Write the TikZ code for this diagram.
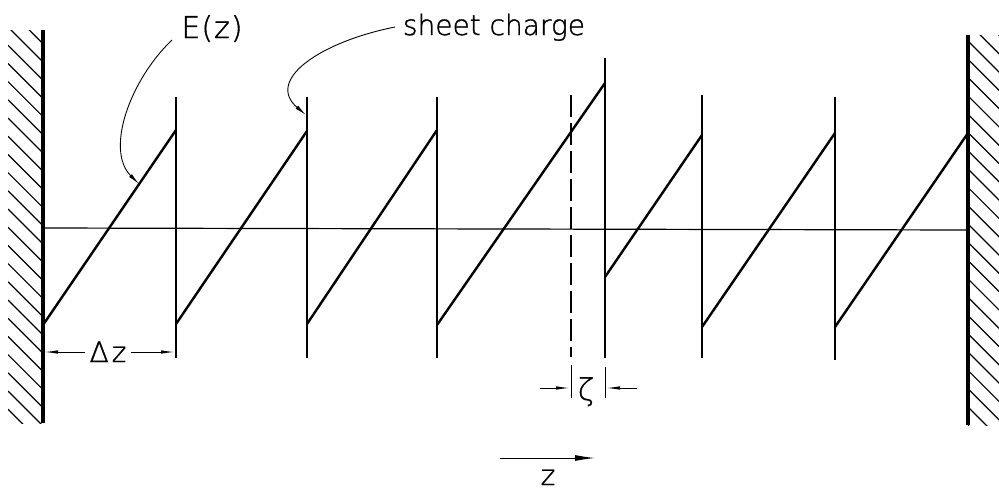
\documentclass[tikz,border=0pt]{standalone}
\usepackage{fontspec}
\newfontfamily\lett{DejaVu Sans ExtraLight}[FakeBold=1.2]
\usetikzlibrary{arrows.meta}
\begin{document}
\begin{tikzpicture}[x=1pt,y=-1pt,
  wall/.style={line width=3.6pt},
  sheetline/.style={line width=2.6pt},
  ramp/.style={line width=2.4pt},
  axisline/.style={line width=1.2pt},
  hatchline/.style={line width=1.2pt},
  fineline/.style={line width=1pt},
  leader/.style={line width=0.9pt,-{Latex[length=12pt,width=4pt]}},
  dimarrow/.style={line width=1pt,-{Latex[length=14pt,width=3.5pt]}},
  lbl/.style={font=\lett\fontsize{28}{30}\selectfont, inner sep=0pt}
]
\useasboundingbox (0,0) rectangle (999,490);
\fill[white] (0,0) rectangle (999,490);

% walls with hatching
\begin{scope}
  \clip (8,30) rectangle (42,423);
  \foreach \i in {0,...,23} \draw[hatchline] (8,{8.8+18.2*\i}) -- ++(40,40);
\end{scope}
\begin{scope}
  \clip (968,35) rectangle (999,425);
  \foreach \i in {0,...,23} \draw[hatchline] (968,{4.4+18.3*\i}) -- ++(40,40);
\end{scope}
\coordinate (LWt) at (43,30);  \coordinate (LWb) at (43,423);
\coordinate (RWt) at (968,35); \coordinate (RWb) at (968,425);
\draw[wall] (LWt) -- (LWb);
\draw[wall] (RWt) -- (RWb);

% axis
\coordinate (axL) at (43,228); \coordinate (axR) at (968,230);
\draw[axisline] (axL) -- (axR);

% sheets
\coordinate (s1t) at (176,97);  \coordinate (s1b) at (176,358);
\coordinate (s2t) at (307,97);  \coordinate (s2b) at (307,358);
\coordinate (s3t) at (437,97);  \coordinate (s3b) at (437,358);
\coordinate (s4t) at (605,58);  \coordinate (s4b) at (605,358);
\coordinate (s5t) at (702,95);  \coordinate (s5b) at (702,358);
\coordinate (s6t) at (835,97);  \coordinate (s6b) at (835,360);
\foreach \s in {1,...,6} \draw[sheetline] (s\s t) -- (s\s b);

% dashed original position
\coordinate (dt) at (571,95); \coordinate (db) at (571,357);
\draw[sheetline,dash pattern=on 22pt off 6pt] (dt) -- (db);

% field ramps
\coordinate (r1a) at (43,325);  \coordinate (r1b) at (176,130);
\coordinate (r2a) at (176,324); \coordinate (r2b) at (307,131);
\coordinate (r3a) at (307,324); \coordinate (r3b) at (437,130);
\coordinate (r4a) at (437,325); \coordinate (r4b) at (605,83);
\coordinate (r5a) at (605,277); \coordinate (r5b) at (702,135);
\coordinate (r6a) at (702,327); \coordinate (r6b) at (835,133);
\coordinate (r7a) at (835,327); \coordinate (r7b) at (968,133);
\foreach \r in {1,...,7} \draw[ramp,line cap=round] (r\r a) -- (r\r b);

% labels
\node[lbl,anchor=base,font=\lett\fontsize{30}{32}\selectfont] (Ez) at (212,38) {E\hspace{1pt}(\hspace{1pt}z\hspace{1pt})};
\node[lbl,anchor=base] (sc) at (494,35) {sheet charge};

% leaders
\coordinate (EzS) at (172,40); \coordinate (EzT) at (139,184);
\draw[leader] (EzS) .. controls (130,80) and (105,150) .. (EzT);
\coordinate (scS) at (395,27); \coordinate (scT) at (306,115);
\draw[leader] (scS) .. controls (320,42) and (265,80) .. (scT);

% delta z dimension
\node[lbl,anchor=base,inner xsep=4pt] (dz) at (108,362) {Δ\hspace{3pt}z};
\coordinate (dzL) at (44,352); \coordinate (dzR) at (175,352);
\draw[dimarrow] (dz.west |- dzL) -- (dzL);
\draw[dimarrow] (dz.east |- dzR) -- (dzR);

% zeta dimension
\coordinate (zt1) at (571,365); \coordinate (zb1) at (571,398);
\coordinate (zt2) at (605,367); \coordinate (zb2) at (605,398);
\draw[fineline] (zt1) -- (zb1);
\draw[fineline] (zt2) -- (zb2);
\coordinate (zaL) at (540,388); \coordinate (zaLt) at (570,388);
\coordinate (zaR) at (637,388); \coordinate (zaRt) at (606,388);
\draw[dimarrow] (zaL) -- (zaLt);
\draw[dimarrow] (zaR) -- (zaRt);
\node[lbl,anchor=base,font=\lett\fontsize{30}{32}\selectfont] (zeta) at (586,400) {ζ};

% z direction arrow
\coordinate (zdS) at (500,458); \coordinate (zdE) at (595,458);
\draw[line width=1pt,-{Latex[length=20pt,width=6pt]}] (zdS) -- (zdE);
\node[lbl,anchor=base] (zlab) at (548,485) {z};
\end{tikzpicture}
\end{document}
